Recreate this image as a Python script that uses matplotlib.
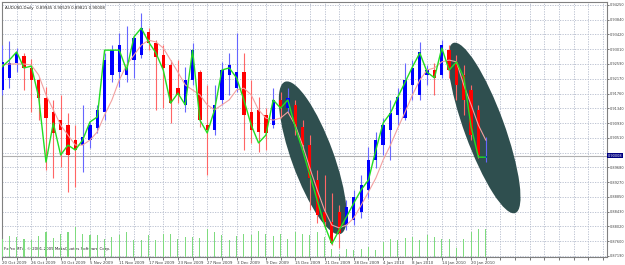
import numpy as np
import matplotlib.pyplot as plt
from matplotlib.patches import Ellipse
from matplotlib.transforms import IdentityTransform

# AUDUSD daily, 20 Oct 2009 .. 22 Jan 2010 (one value per trading day)
date_labels = ["20 Oct 2009", "26 Oct 2009", "30 Oct 2009", "5 Nov 2009", "11 Nov 2009",
               "17 Nov 2009", "23 Nov 2009", "27 Nov 2009", "3 Dec 2009", "9 Dec 2009",
               "15 Dec 2009", "21 Dec 2009", "28 Dec 2009", "4 Jan 2010", "8 Jan 2010",
               "14 Jan 2010", "20 Jan 2010"]

opens = [0.9186, 0.9220, 0.9262, 0.9281, 0.9248, 0.9214, 0.9163, 0.9124, 0.9101, 0.9087,
         0.9045, 0.9031, 0.9045, 0.9079, 0.9124, 0.9228, 0.9236, 0.9228, 0.9270, 0.9284,
         0.9349, 0.9318, 0.9284, 0.9256, 0.9191, 0.9144, 0.9214, 0.9236, 0.9087, 0.9073,
         0.9158, 0.9228, 0.9191, 0.9236, 0.9124, 0.9130, 0.9116, 0.9087, 0.9158, 0.9135,
         0.9144, 0.9082, 0.9031, 0.8933, 0.8843, 0.8815, 0.8843, 0.8806, 0.8820, 0.8843,
         0.8905, 0.8989, 0.9031, 0.9073, 0.9116, 0.9107, 0.9200, 0.9172, 0.9228, 0.9242,
         0.9228, 0.9298, 0.9265, 0.9228, 0.9186, 0.9130, 0.89945]
highs = [0.9312, 0.9324, 0.9304, 0.9290, 0.9273, 0.9220, 0.9194, 0.9158, 0.9172, 0.9121,
         0.9087, 0.9144, 0.9096, 0.9144, 0.9290, 0.9312, 0.9346, 0.9366, 0.9341, 0.9402,
         0.9360, 0.9326, 0.9312, 0.9270, 0.9270, 0.9251, 0.9318, 0.9242, 0.9200, 0.9200,
         0.9265, 0.9290, 0.9346, 0.9290, 0.9214, 0.9166, 0.9135, 0.9191, 0.9180, 0.9191,
         0.9158, 0.9101, 0.9059, 0.8961, 0.8947, 0.8896, 0.8862, 0.8876, 0.8905, 0.8947,
         0.9026, 0.9068, 0.9107, 0.9158, 0.9191, 0.9262, 0.9270, 0.9321, 0.9256, 0.9262,
         0.9326, 0.9312, 0.9284, 0.9256, 0.9200, 0.9144, 0.90529]
lows = [0.9172, 0.9191, 0.9236, 0.9186, 0.9124, 0.9101, 0.8961, 0.8938, 0.8969, 0.8899,
        0.8913, 0.8955, 0.9023, 0.9065, 0.9101, 0.9208, 0.9194, 0.9208, 0.9220, 0.9276,
        0.9298, 0.9130, 0.9135, 0.9093, 0.9149, 0.9124, 0.9200, 0.9082, 0.8947, 0.9059,
        0.9144, 0.9172, 0.9180, 0.9017, 0.9037, 0.9011, 0.9017, 0.9079, 0.9107, 0.9124,
        0.9059, 0.9017, 0.8848, 0.8812, 0.8798, 0.8750, 0.8741, 0.8792, 0.8806, 0.8826,
        0.8882, 0.8966, 0.9003, 0.8989, 0.9087, 0.9101, 0.9158, 0.9158, 0.9200, 0.9172,
        0.9220, 0.9220, 0.9158, 0.9116, 0.9045, 0.8995, 0.89821]
closes = [0.9265, 0.9262, 0.9290, 0.9248, 0.9214, 0.9163, 0.9107, 0.9065, 0.9073, 0.9003,
          0.9017, 0.9054, 0.9087, 0.9130, 0.9270, 0.9298, 0.9312, 0.9248, 0.9332, 0.9360,
          0.9318, 0.9279, 0.9248, 0.9149, 0.9172, 0.9214, 0.9298, 0.9101, 0.9073, 0.9144,
          0.9242, 0.9256, 0.9236, 0.9116, 0.9073, 0.9068, 0.9065, 0.9158, 0.9135, 0.9163,
          0.9082, 0.9031, 0.8938, 0.8834, 0.8815, 0.8755, 0.8784, 0.8857, 0.8885, 0.8919,
          0.8989, 0.9045, 0.9087, 0.9121, 0.9166, 0.9214, 0.9248, 0.9293, 0.9242, 0.9220,
          0.9312, 0.9242, 0.9200, 0.9158, 0.9059, 0.9003, 0.90008]

# the two moving averages drawn on the chart
fast_ma = [0.9251, 0.9270, 0.9293, 0.9248, 0.9253, 0.9166, 0.8983, 0.9093, 0.9003, 0.9031,
           0.9017, 0.9045, 0.9096, 0.9110, 0.9298, 0.9298, 0.9298, 0.9242, 0.9335, 0.9360,
           0.9321, 0.9290, 0.9242, 0.9149, 0.9177, 0.9144, 0.9298, 0.9101, 0.9065, 0.9130,
           0.9242, 0.9248, 0.9220, 0.9158, 0.9087, 0.9037, 0.9059, 0.9158, 0.9135, 0.9158,
           0.9082, 0.9017, 0.8947, 0.8876, 0.8806, 0.8753, 0.8792, 0.8829, 0.8868, 0.8905,
           0.8933, 0.9017, 0.9093, 0.9121, 0.9166, 0.9208, 0.9251, 0.9290, 0.9236, 0.9220,
           0.9304, 0.9242, 0.9265, 0.9222, 0.9082, 0.8997, 0.8997]
slow_ma = [0.9256, 0.9259, 0.9259, 0.9259, 0.9256, 0.9228, 0.9172, 0.9130, 0.9087, 0.9059,
           0.9031, 0.9031, 0.9045, 0.9068, 0.9116, 0.9158, 0.9214, 0.9256, 0.9284, 0.9312,
           0.9326, 0.9321, 0.9304, 0.9270, 0.9236, 0.9200, 0.9186, 0.9172, 0.9144, 0.9130,
           0.9144, 0.9158, 0.9186, 0.9191, 0.9172, 0.9130, 0.9107, 0.9101, 0.9107, 0.9124,
           0.9087, 0.9031, 0.8966, 0.8905, 0.8848, 0.8806, 0.8798, 0.8806, 0.8826, 0.8862,
           0.8899, 0.8938, 0.8989, 0.9031, 0.9079, 0.9124, 0.9172, 0.9214, 0.9242, 0.9248,
           0.9265, 0.9270, 0.9265, 0.9200, 0.9144, 0.9087, 0.9045]

volumes = [10800, 12600, 12000, 10800, 10200, 12600, 15000, 11400, 13800, 15000,
           18000, 13800, 13200, 13200, 10800, 12000, 13200, 15000, 10200, 10200,
           13200, 10200, 13800, 13800, 10800, 12000, 12000, 11400, 16800, 15000,
           13200, 10200, 12600, 13800, 13200, 15600, 13800, 12600, 13800, 10800,
           15000, 13800, 13200, 15000, 12000, 4800, 1800, 4800, 4200, 4800,
           6000, 4200, 9000, 10800, 10200, 11400, 12000, 10200, 13200, 12000,
           10800, 10800, 5400, 10800, 15000, 16800, 16800]

price_ticks = [0.94250, 0.93840, 0.93420, 0.93010, 0.92590, 0.92170, 0.91760, 0.91340,
               0.90930, 0.90510, 0.90100, 0.89680, 0.89270, 0.88850, 0.88430, 0.88020,
               0.87600, 0.87190]
last_price = 0.90008
header = "AUDUSD,Daily  0.89945 0.90529 0.89821 0.90008"

# marked zones: centre bar, centre price, size in pixels, tilt
zones = [(42.4, 0.8995, 162, 42, -70), (65.8, 0.9079, 181, 40, -70)]

o = np.array(opens)
c = np.array(closes)
x = np.arange(len(c))
up = c >= o

fig = plt.figure(figsize=(6.25, 2.65), dpi=100)
ax = fig.add_axes([2 / 625, 8 / 265, 605 / 625, 255 / 265])

# volumes at the bottom of the price window
axv = ax.twinx()
axv.set_ylim(0, 153000)
axv.bar(x, volumes, width=0.15, color='#7fdb7f')
axv.axis('off')

ax.set_xlim(0, 82.54)
ax.set_ylim(0.87161, 0.94334)
ax.set_xticks(np.arange(0, 4 * len(date_labels), 4))
ax.set_xticklabels(date_labels)
ax.set_xticks(np.arange(0, 83, 2), minor=True)
for lbl in ax.get_xticklabels():
    lbl.set_ha('left')
ax.yaxis.tick_right()
ax.set_yticks(price_ticks)
ax.set_yticklabels(["%.5f" % p if p != 0.90100 else "" for p in price_ticks])
ax.tick_params(which='both', length=2, width=0.5, pad=1, labelsize=2.9,
               colors='#404040')
ax.tick_params(axis='y', length=1.5, pad=0.6, labelsize=2.5)
ax.grid(True, which='both', linestyle=(0, (1.5, 1.5)), color='#b4bccc', lw=0.6)
ax.set_axisbelow(True)
for s in ax.spines.values():
    s.set_color('#808080')
    s.set_linewidth(0.8)

for ci, cp, w, h, ang in zones:
    cx, cy = ax.transData.transform((ci, cp))
    ax.add_patch(Ellipse((cx, cy), w, h, angle=ang, transform=IdentityTransform(),
                         facecolor='#2f4f4f', edgecolor='none', zorder=2))

ax.axhline(last_price, color='#b0b0b0', lw=0.8, zorder=1)

wick_col = np.where(up, '#6666ff', '#ff6666')
body_col = np.where(up, '#0000ff', '#ff0000')
ax.vlines(x, lows, highs, colors=wick_col, lw=0.8, zorder=3)
ax.bar(x, np.maximum(np.abs(c - o), 0.00008), bottom=np.minimum(o, c), width=0.45,
       color=body_col, zorder=3)

ax.plot(x, slow_ma, color='#f2a0a0', lw=0.8, zorder=4)
ax.plot(x, fast_ma, color='#22dd22', lw=1.0, zorder=4)

ax.text(0.005, 0.985, header, transform=ax.transAxes, fontsize=2.9, va='top',
        ha='left', color='#202020')
ax.text(0.004, 0.025, "FxPro MT4, \u00a9 2001-2009 MetaQuotes Software Corp.",
        transform=ax.transAxes, fontsize=2.9, va='bottom', ha='left', color='#202020')
ax.text(1.0015, last_price, "%.5f" % last_price, transform=ax.get_yaxis_transform(),
        fontsize=2.5, color='white', va='center', ha='left', clip_on=False,
        bbox=dict(boxstyle='square,pad=0.2', fc='#000080', ec='none'))

fig.savefig("out.png", dpi=100)
